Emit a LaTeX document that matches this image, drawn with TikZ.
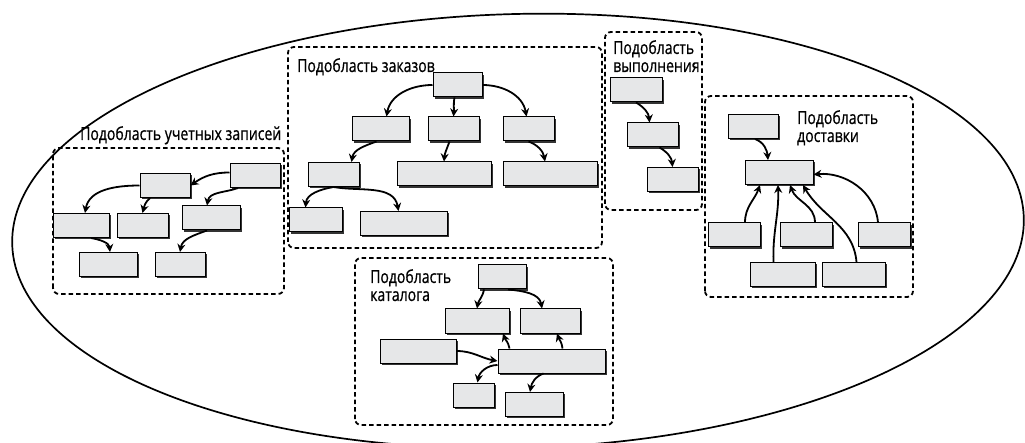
\documentclass[tikz,border=0pt]{standalone}
\usepackage{fontspec}
\usepackage{tikz}
\usetikzlibrary{arrows.meta,shadows}
\newfontfamily\areafont[FakeStretch=0.78, FakeBold=0.7]{Open Sans}
\definecolor{Box}{RGB}{230, 231, 232}

\tikzset{
    box/.style={draw, line width=1pt, fill=Box, inner sep=0pt,
        minimum width=50pt, minimum height=24pt,
        drop shadow={shadow xshift=1.8pt, shadow yshift=-1.8pt, fill=black!80, opacity=1}},
    link/.style={line width=1.8pt, -{Stealth[length=8pt, width=8pt]}},
    area/.style={line width=1.8pt, dash pattern=on 4.5pt off 3pt, rounded corners=6pt},
    title/.style={anchor=north west, inner sep=0pt, align=left,
        font=\areafont\fontsize{18pt}{18pt}\selectfont},
}

\begin{document}
\begin{tikzpicture}[x=1pt, y=1pt]
    %% Background
    \useasboundingbox (0,0) rectangle (1025,442);

    %% Domain
    \draw[line width=1.7pt, rotate around={1.5:(518,211)}]
    (518,211) ellipse [x radius=506pt, y radius=217pt];

    %% Subdomains
    \draw[area] (53,148) rectangle (284,294);
    \draw[area] (288,194) rectangle (602,395);
    \draw[area] (605,232) rectangle (702,410);
    \draw[area] (705,145) rectangle (913,346);
    \draw[area] (355,17) rectangle (613,184);

    \node[title] (accountsL) at (80,316) {Подобласть учетных записей};
    \node[title] (ordersL) at (297,384) {Подобласть заказов};
    \node[title] (fulfilL) at (613,402) {Подобласть\\выполнения};
    \node[title] (deliveryL) at (797,332) {Подобласть\\доставки};
    \node[title] (catalogL) at (370,173) {Подобласть\\каталога};

    %% Accounts
    \node[box] (a1) at (255,266.5) {};
    \node[box] (a2) at (165,256.5) {};
    \node[box, minimum width=56pt] (a3) at (81,216.5) {};
    \node[box, minimum width=51pt] (a4) at (142.5,216.5) {};
    \node[box, minimum width=58pt] (a5) at (211,224) {};
    \node[box, minimum width=58pt] (a6) at (108,177.5) {};
    \node[box] (a7) at (180,177.5) {};

    \draw[link] ([yshift=3pt]a1.west) to[out=180, in=35] (a2.east);
    \draw[link] ([xshift=-17pt]a1.south) to[out=200, in=80] ([xshift=-4pt]a5.north);
    \draw[link] (a2.west) to[out=180, in=80] ([xshift=4pt]a3.north);
    \draw[link] ([xshift=-15pt]a2.south) to[out=-140, in=75] (a4.north);
    \draw[link] ([xshift=10pt]a3.south) to[out=-10, in=95] ([xshift=2pt]a6.north);
    \draw[link] ([xshift=-4pt]a5.south) to[out=200, in=80] (a7.north);

    %% Orders
    \node[box, minimum width=49pt] (o1) at (457.5,357) {};
    \node[box, minimum width=57pt] (o2) at (380.5,313) {};
    \node[box, minimum width=51pt] (o3) at (453.5,313) {};
    \node[box, minimum width=51pt] (o4) at (528.5,313) {};
    \node[box, minimum width=51pt] (o5) at (333.5,267.5) {};
    \node[box, minimum width=94pt] (o6) at (444,268) {};
    \node[box, minimum width=94pt] (o7) at (550,268) {};
    \node[box, minimum width=53pt] (o8) at (315.5,222) {};
    \node[box, minimum width=87pt] (o9) at (403.5,218.5) {};

    \draw[link] (o1.west) to[out=180, in=80] ([xshift=6pt]o2.north);
    \draw[link] ([xshift=-3pt]o1.south) to[out=-100, in=85] (o3.north);
    \draw[link] (o1.east) to[out=0, in=100] ([xshift=-2pt]o4.north);
    \draw[link] ([xshift=-4pt]o2.south) to[out=200, in=80] ([xshift=18pt]o5.north);
    \draw[link] ([xshift=-4pt]o3.south) to[out=-110, in=85] (o6.north);
    \draw[link] (o4.south) to[out=-20, in=100] ([xshift=-5pt]o7.north);
    \draw[link] (o5.south) to[out=190, in=85] ([xshift=-10pt]o8.north);
    \draw[link] (o5.south) to[out=-10, in=100] ([xshift=-5pt]o9.north);

    %% Fulfillment
    \node[box, minimum width=52pt] (f1) at (636,352) {};
    \node[box, minimum width=51pt] (f2) at (652.5,307) {};
    \node[box, minimum width=51pt] (f3) at (672.5,262.5) {};

    \draw[link] (f1.south) to[out=-30, in=95] ([xshift=-3pt]f2.north);
    \draw[link] ([xshift=7pt]f2.south) to[out=-30, in=95] (f3.north);

    %% Delivery
    \node[box] (d0) at (753,315.5) {};
    \node[box, minimum width=68pt] (dm) at (779,269.5) {};
    \node[box, minimum width=52pt] (d1) at (734,207) {};
    \node[box, minimum width=52pt] (d2) at (806,207) {};
    \node[box, minimum width=52pt] (d3) at (884,207) {};
    \node[box, minimum width=65pt] (d4) at (782.5,167.5) {};
    \node[box, minimum width=63pt] (d5) at (853.5,167.5) {};

    \draw[link] ([xshift=2pt]d0.south) to[out=-20, in=95] ([xshift=-11pt]dm.north);
    \draw[link] ([xshift=11pt]d1.north) to[out=90, in=-110] ([xshift=-19pt]dm.south);
    \draw[link] ([xshift=-9pt]d4.north) to[out=92, in=-88] ([xshift=-1pt]dm.south);
    \draw[link] ([xshift=9pt]d2.north) to[out=90, in=-70] ([xshift=11pt]dm.south);
    \draw[link] ([xshift=3pt]d5.north) to[out=95, in=-60] ([xshift=24pt]dm.south);
    \draw[link] ([xshift=-6pt]d3.north) to[out=95, in=5] ([yshift=-2pt]dm.east);

    %% Catalog
    \node[box, minimum width=48pt] (c1) at (502,165) {};
    \node[box, minimum width=64pt] (c2) at (477,121) {};
    \node[box, minimum width=60pt] (c3) at (550,121) {};
    \node[box, minimum width=76pt] (c4) at (418,91) {};
    \node[box, minimum width=107pt] (c5) at (551.5,81) {};
    \node[box, minimum width=41pt] (c6) at (473.5,47) {};
    \node[box, minimum width=58pt] (c7) at (534,37.5) {};

    \draw[link] ([xshift=-18pt]c1.south) to[out=-100, in=80] (c2.north);
    \draw[link] ([xshift=6pt]c1.south) to[out=-5, in=100] ([xshift=-8pt]c3.north);
    \draw[link] ([xshift=-42pt]c5.north) to[out=100, in=-70] ([xshift=26pt]c2.south);
    \draw[link] ([xshift=11pt]c5.north) to[out=95, in=-70] ([xshift=7pt]c3.south);
    \draw[link] (c4.east) to[out=0, in=170] (c5.west);
    \draw[link] ([yshift=-4pt]c5.west) to[out=180, in=80] ([xshift=4pt]c6.north);
    \draw[link] ([xshift=-8pt]c5.south) to[out=200, in=80] ([xshift=-4pt]c7.north);
\end{tikzpicture}
\end{document}
